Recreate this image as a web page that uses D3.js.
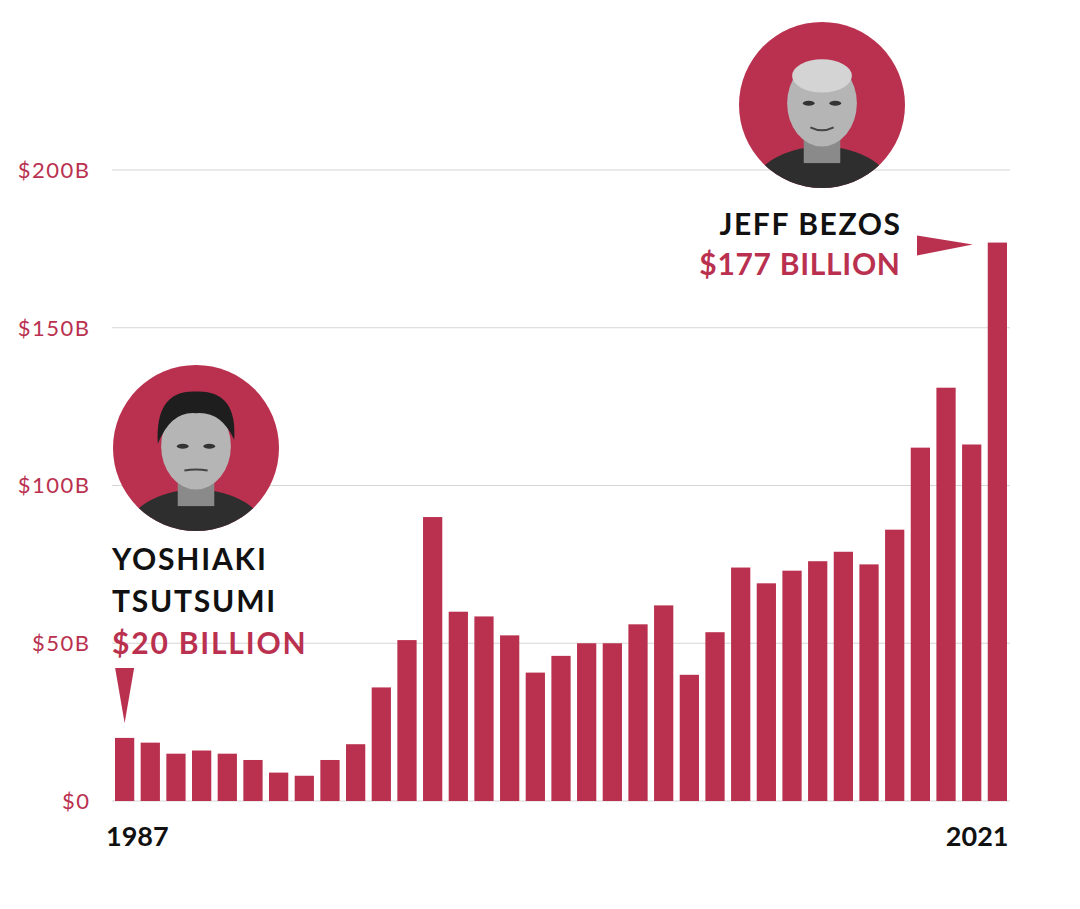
<!DOCTYPE html>
<html><head><meta charset="utf-8">
<script src="https://cdn.jsdelivr.net/npm/d3@7"></script>
<style>
html,body{margin:0;padding:0;background:#fff;}
svg{display:block;}
text{font-family:Lato,"Open Sans",sans-serif;}
</style></head>
<body>
<svg id="chart" width="1080" height="909"></svg>
<script>
const years = d3.range(1987, 2022);
const wealth = [20,18.5,15,16,15,13,9,8,13,18,36,51,90,60,58.5,52.5,40.7,46,50,50,56,62,40,53.5,74,69,73,76,79,75,86,112,131,113,177];
const yTicks = [0,50,100,150,200];
const yTickLabels = ["$0","$50B","$100B","$150B","$200B"];
const xLabels = [1987, 2021];
const annotFirst = ["YOSHIAKI","TSUTSUMI"], annotFirstValue = "$20 BILLION";
const annotLast = ["JEFF BEZOS"], annotLastValue = "$177 BILLION";

const red = "#BA3150";
const svg = d3.select("#chart");

const x = d3.scaleBand().domain(years).range([115, 1007]).paddingInner(0.25).paddingOuter(0);
const y = d3.scaleLinear().domain([0, 200]).range([801, 170]);

// gridlines
svg.append("g").selectAll("line").data(yTicks).join("line")
  .attr("x1", 112).attr("x2", 1010)
  .attr("y1", d => y(d)).attr("y2", d => y(d))
  .attr("stroke", "#d6d6d6").attr("stroke-width", 1.2);

// y labels
svg.append("g").selectAll("text").data(yTicks).join("text")
  .attr("x", 90.5).attr("y", d => y(d)).attr("dy", "0.36em")
  .attr("text-anchor", "end").attr("fill", red)
  .style("font-size", "22px").style("font-weight", 400).style("letter-spacing", "1.5px")
  .text((d, i) => yTickLabels[i]);

// bars
svg.append("g").selectAll("rect").data(years).join("rect")
  .attr("x", d => x(d)).attr("width", x.bandwidth())
  .attr("y", (d, i) => y(wealth[i])).attr("height", (d, i) => y(0) - y(wealth[i]))
  .attr("fill", red);

// x labels
svg.append("g").selectAll("text").data(xLabels).join("text")
  .attr("x", (d, i) => i === 0 ? x(d) - 9 : x(d) + x.bandwidth() + 1.5)
  .attr("y", 846)
  .attr("text-anchor", (d, i) => i === 0 ? "start" : "end")
  .attr("fill", "#111")
  .style("font-size", "27px").style("font-weight", 700)
  .text(d => d);

// portraits (stylised)
function portrait(cx, cy, r, bald) {
  const g = svg.append("g");
  const clipId = "clip" + Math.round(cx);
  svg.append("clipPath").attr("id", clipId).append("circle").attr("cx", cx).attr("cy", cy).attr("r", r);
  g.append("circle").attr("cx", cx).attr("cy", cy).attr("r", r).attr("fill", red);
  const c = g.append("g").attr("clip-path", `url(#${clipId})`);
  c.append("ellipse").attr("cx", cx).attr("cy", cy + r * 1.05).attr("rx", r * 0.85).attr("ry", r * 0.55).attr("fill", "#2e2e2e");
  c.append("rect").attr("x", cx - r * 0.22).attr("y", cy + r * 0.2).attr("width", r * 0.44).attr("height", r * 0.5).attr("fill", "#8a8a8a");
  c.append("ellipse").attr("cx", cx).attr("cy", cy - r * 0.02).attr("rx", r * 0.42).attr("ry", r * 0.52).attr("fill", "#b5b5b5");
  if (!bald) {
    c.append("path").attr("d", `M${cx - r * 0.46},${cy - r * 0.05} Q${cx - r * 0.5},${cy - r * 0.7} ${cx},${cy - r * 0.68} Q${cx + r * 0.5},${cy - r * 0.7} ${cx + r * 0.46},${cy - r * 0.1} Q${cx + r * 0.3},${cy - r * 0.45} ${cx},${cy - r * 0.42} Q${cx - r * 0.3},${cy - r * 0.45} ${cx - r * 0.46},${cy - r * 0.05}Z`).attr("fill", "#1e1e1e");
  } else {
    c.append("ellipse").attr("cx", cx).attr("cy", cy - r * 0.35).attr("rx", r * 0.36).attr("ry", r * 0.2).attr("fill", "#d4d4d4");
  }
  c.append("ellipse").attr("cx", cx - r * 0.16).attr("cy", cy - r * 0.02).attr("rx", r * 0.07).attr("ry", r * 0.03).attr("fill", "#333");
  c.append("ellipse").attr("cx", cx + r * 0.16).attr("cy", cy - r * 0.02).attr("rx", r * 0.07).attr("ry", r * 0.03).attr("fill", "#333");
  c.append("path").attr("d", `M${cx - r * 0.14},${cy + r * 0.27} Q${cx},${cy + r * (bald ? 0.34 : 0.25)} ${cx + r * 0.14},${cy + r * 0.27}`).attr("stroke", "#444").attr("stroke-width", 2).attr("fill", "none");
}
portrait(196, 448, 83, false);
portrait(822, 105, 83, true);

// annotation: first
const first = svg.append("g").style("font-size", "30px").style("font-weight", 700).style("letter-spacing", "1.8px");
annotFirst.forEach((t, i) => first.append("text").attr("x", 112).attr("y", 570 + i * 42).attr("fill", "#111").text(t));
first.append("text").attr("x", 112).attr("y", 654).attr("fill", red).text(annotFirstValue);
const fx = x(years[0]) + x.bandwidth() / 2;
svg.append("path").attr("d", `M${fx - 9.5},668 L${fx + 9.5},668 L${fx},${y(wealth[0]) - 15}Z`).attr("fill", red);

// annotation: last
const last = svg.append("g").style("font-size", "30px").style("font-weight", 700).attr("text-anchor", "end");
annotLast.forEach((t, i) => last.append("text").attr("x", 901.6).attr("y", 235).attr("fill", "#111").style("letter-spacing", "1.6px").text(t));
last.append("text").attr("x", 900.7).attr("y", 275).attr("fill", red).style("letter-spacing", "0.7px").text(annotLastValue);
const lx = x(years[years.length - 1]);
const ly = y(wealth[wealth.length - 1]);
svg.append("path").attr("d", `M917,${ly - 7} L917,${ly + 13} L${lx - 15},${ly + 2}Z`).attr("fill", red);
</script>
</body></html>
